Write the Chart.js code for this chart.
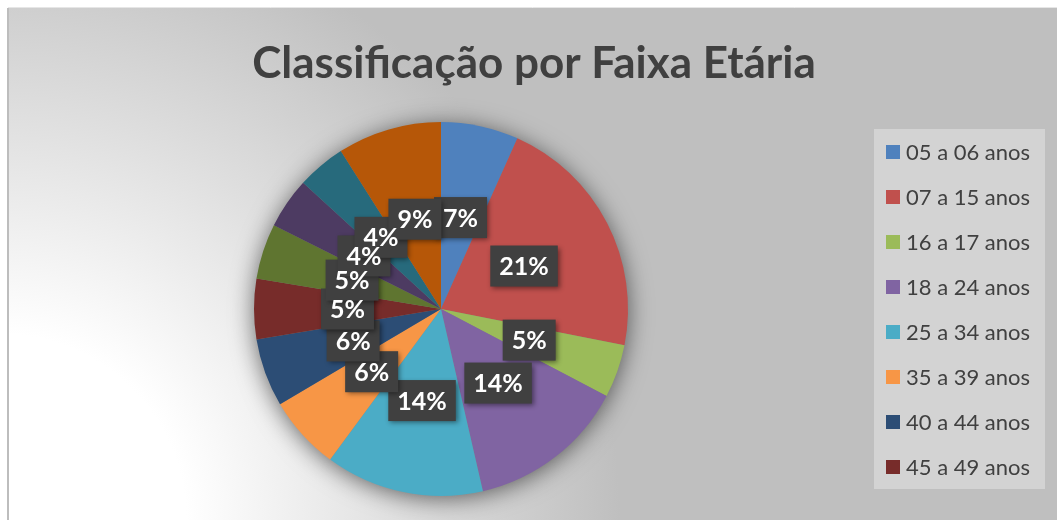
<!DOCTYPE html>
<html>
<head>
<meta charset="utf-8">
<script src="https://cdn.jsdelivr.net/npm/chart.js@4/dist/chart.umd.min.js"></script>
<style>
  html, body { margin: 0; padding: 0; background: #fff; }
  #wrap { width: 1057px; height: 520px; }
</style>
</head>
<body>
<div id="wrap"><canvas id="grafico"></canvas></div>
<script>
const titulo = 'Classificação por Faixa Etária';
const faixas = ['05 a 06 anos', '07 a 15 anos', '16 a 17 anos', '18 a 24 anos',
  '25 a 34 anos', '35 a 39 anos', '40 a 44 anos', '45 a 49 anos',
  '50 a 54 anos', '55 a 59 anos', '60 a 64 anos', '65 anos ou mais'];
const valores = [6.7, 21.4, 4.6, 13.7, 13.7, 6.4, 5.9, 5.2, 4.8, 4.4, 4.2, 9.0];
const cores = ['#4F81BD', '#C0504D', '#9BBB59', '#8064A2', '#4BACC6', '#F79646',
  '#2C4D75', '#772C2A', '#5F7530', '#4D3B62', '#276A7C', '#B65708'];

const total = valores.reduce((a, b) => a + b, 0);

// fundo, titulo e legenda (estilo Excel)
const moldura = {
  id: 'moldura',
  beforeDraw(chart) {
    const ctx = chart.ctx;
    ctx.save();
    ctx.fillStyle = '#ffffff';
    ctx.fillRect(0, 0, chart.width, chart.height);
    const g = ctx.createRadialGradient(0, 520, 0, 0, 520, 620);
    g.addColorStop(0, '#ffffff');
    g.addColorStop(0.3, '#ffffff');
    g.addColorStop(1, '#bfbfbf');
    ctx.fillStyle = g;
    ctx.fillRect(9, 8, chart.width - 9, chart.height - 8);
    ctx.strokeStyle = '#bdbdbd';
    ctx.lineWidth = 2;
    ctx.beginPath();
    ctx.moveTo(8, 8);
    ctx.lineTo(8, chart.height);
    ctx.stroke();
    ctx.strokeStyle = '#e6e6e6';
    ctx.lineWidth = 1;
    ctx.beginPath();
    ctx.moveTo(8, 7.5);
    ctx.lineTo(chart.width, 7.5);
    ctx.stroke();

    ctx.fillStyle = '#404040';
    ctx.font = 'bold 44px Lato';
    ctx.textAlign = 'center';
    ctx.textBaseline = 'middle';
    ctx.fillText(titulo, 534, 64);

    // legenda: só cabem 8 itens na caixa
    ctx.fillStyle = '#d3d3d3';
    ctx.fillRect(874, 129, 171, 360);
    ctx.font = '22px Lato';
    ctx.textAlign = 'left';
    for (let i = 0; i < faixas.length; i++) {
      const y = 152 + i * 45;
      if (y + 11 > 489) break;
      ctx.fillStyle = cores[i];
      ctx.fillRect(886, y - 7, 14, 14);
      ctx.fillStyle = '#404040';
      ctx.fillText(faixas[i], 906, y + 1);
    }
    ctx.restore();
  },
  beforeDatasetsDraw(chart) {
    const arc = chart.getDatasetMeta(0).data[0];
    if (!arc) return;
    const ctx = chart.ctx;
    ctx.save();
    ctx.shadowColor = 'rgba(0,0,0,0.6)';
    ctx.shadowBlur = 24;
    ctx.shadowOffsetY = 3;
    ctx.fillStyle = '#808080';
    ctx.beginPath();
    ctx.arc(arc.x, arc.y, arc.outerRadius - 1, 0, Math.PI * 2);
    ctx.fill();
    ctx.restore();
  },
  afterDatasetsDraw(chart) {
    const ctx = chart.ctx;
    const meta = chart.getDatasetMeta(0);
    ctx.save();
    ctx.font = 'bold 25px Lato';
    ctx.textAlign = 'center';
    ctx.textBaseline = 'middle';
    const rotulos = meta.data.map((el, i) => ({
      p: el.getCenterPoint(),
      txt: Math.round(valores[i] / total * 100) + '%'
    }));
    // primeiro todas as caixas, depois todos os textos
    rotulos.forEach(r => {
      const w = ctx.measureText(r.txt).width + 18;
      const h = 41;
      ctx.shadowColor = 'rgba(0,0,0,0.45)';
      ctx.shadowBlur = 5;
      ctx.shadowOffsetX = 2;
      ctx.shadowOffsetY = 2;
      ctx.fillStyle = '#404040';
      ctx.fillRect(r.p.x - w / 2, r.p.y - h / 2, w, h);
    });
    ctx.shadowColor = 'transparent';
    ctx.fillStyle = '#ffffff';
    rotulos.forEach(r => ctx.fillText(r.txt, r.p.x, r.p.y + 1));
    ctx.restore();
  }
};

const ctx = document.getElementById('grafico').getContext('2d');
const grafico = new Chart(ctx, {
  type: 'pie',
  data: {
    labels: faixas,
    datasets: [{
      data: valores,
      backgroundColor: cores,
      borderWidth: 0
    }]
  },
  options: {
    responsive: true,
    maintainAspectRatio: false,
    animation: false,
    layout: { padding: { left: 254, right: 429, top: 122, bottom: 24 } },
    plugins: {
      legend: { display: false },
      tooltip: { enabled: false }
    }
  },
  plugins: [moldura]
});
</script>
</body>
</html>
